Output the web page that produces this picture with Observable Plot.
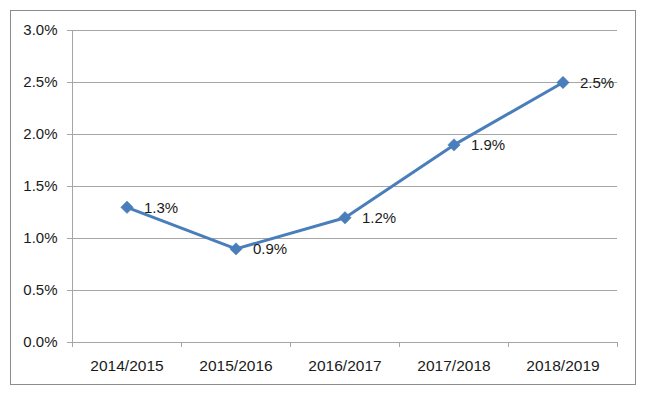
<!DOCTYPE html>
<html>
<head>
<meta charset="utf-8">
<script src="https://cdn.jsdelivr.net/npm/d3@7"></script>
<script src="https://cdn.jsdelivr.net/npm/@observablehq/plot@0.6"></script>
<style>
  html, body { margin: 0; padding: 0; background: #fff; }
  #wrap { position: relative; width: 647px; height: 398px; }
  #border { position: absolute; left: 10px; top: 10px; width: 624px; height: 373px; border: 1.5px solid #8c8c8c; pointer-events: none; }
</style>
</head>
<body>
<div id="wrap"><div id="border"></div></div>
<script>
const categories = ["2014/2015", "2015/2016", "2016/2017", "2017/2018", "2018/2019"];
const values = [0.013, 0.009, 0.012, 0.019, 0.025];
const yTicks = [0, 0.005, 0.01, 0.015, 0.02, 0.025, 0.03];

const data = categories.map((c, i) => ({cat: c, idx: i + 0.5, value: values[i]}));
const n = categories.length;
const fmt = d3.format(".1%");
const blue = "#4a7ebb";
const grid = "#a6a6a6";

const chart = Plot.plot({
  width: 647,
  height: 398,
  marginLeft: 72,
  marginRight: 30,
  marginTop: 30,
  marginBottom: 56,
  style: {fontFamily: "Liberation Sans, Arial, sans-serif", fontSize: "15px", color: "#1a1a1a", background: "transparent"},
  x: {type: "linear", domain: [0, n]},
  y: {domain: [0, 0.03]},
  marks: [
    Plot.gridY(yTicks, {stroke: grid, strokeOpacity: 1, strokeWidth: 1}),
    Plot.ruleX([0], {stroke: grid, strokeWidth: 1}),
    Plot.ruleY([0], {stroke: grid, strokeWidth: 1}),
    Plot.axisY({ticks: yTicks, tickFormat: fmt, tickSize: 5, tickPadding: 10, stroke: grid, strokeOpacity: 1, label: null, fill: "#1a1a1a"}),
    Plot.axisX({ticks: d3.range(0, n + 1), tickFormat: () => "", tickSize: 5, stroke: grid, strokeOpacity: 1, label: null}),
    Plot.axisX({ticks: data.map(d => d.idx), tickFormat: v => categories[Math.floor(v)], tickSize: 0, tickPadding: 17, label: null, fill: "#1a1a1a", fontSize: 15.5}),
    Plot.line(data, {x: "idx", y: "value", stroke: blue, strokeWidth: 3}),
    Plot.dot(data, {x: "idx", y: "value", symbol: "diamond2", r: 5.6, fill: blue, stroke: blue, strokeWidth: 0.5}),
    Plot.text(data, {x: "idx", y: "value", text: d => fmt(d.value), textAnchor: "start", dx: 17, dy: 0.5, fill: "#1a1a1a", fontSize: 15})
  ]
});
document.getElementById("wrap").prepend(chart);
</script>
</body>
</html>
